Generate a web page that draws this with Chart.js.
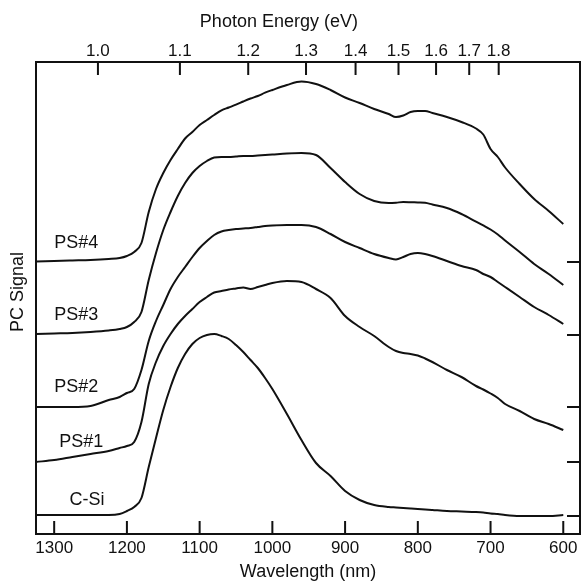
<!DOCTYPE html>
<html>
<head>
<meta charset="utf-8">
<script src="https://cdn.jsdelivr.net/npm/chart.js@4.4.1/dist/chart.umd.min.js"></script>
<style>
  html, body { margin: 0; padding: 0; background: #fff; }
  #chart { display: block; }
</style>
</head>
<body>
<canvas id="chart" width="582" height="584"></canvas>
<script>
const FONT = '"Liberation Sans", Arial, sans-serif';
const INK = "#111";

// wavelength grid (nm)
const wavelength = [1325, 1300, 1275, 1250, 1225, 1210, 1200, 1190, 1180, 1170,
  1160, 1150, 1140, 1130, 1120, 1110, 1100, 1090, 1080, 1070,
  1060, 1050, 1040, 1030, 1020, 1010, 1000, 980, 960, 940,
  920, 900, 880, 860, 840, 830, 820, 810, 800, 790,
  780, 760, 740, 720, 710, 700, 690, 680, 660, 640,
  620, 600];

// PC signal above each curve's own zero line (arb. units)
const cSi = [1, 1, 1, 1, 1, 2, 5, 9, 18, 49,
  78, 106, 129, 148, 162, 172, 178, 181, 182, 180,
  177, 171, 164, 156, 148, 138, 127, 102, 76, 53,
  40, 25, 16, 11, 9, 8.5, 8, 7.5, 7, 6.5,
  6, 5, 4.5, 4, 3.5, 2.5, 2, 1, 0, 0,
  0, 1];
const ps1 = [0, 2, 5, 8, 11, 14, 16, 20, 40, 78,
  100, 116, 128, 138, 146, 153, 160, 165, 169.5, 171,
  172.5, 173.5, 174.5, 173, 175, 177, 179, 181, 180, 173,
  164, 146, 135, 126, 115, 111, 109, 108, 106.5, 103.5,
  100, 92, 85, 76, 72.5, 68.5, 64, 58, 51, 43,
  38, 32];
const ps2 = [0, 0, 0, 1, 7, 10, 14, 18, 37, 66,
  86, 102, 118, 130, 140, 150, 159, 166, 172, 175.5,
  177, 178, 178.5, 179, 180, 181, 181.5, 182, 182, 180,
  173, 165, 159, 153, 149, 147.5, 150, 153, 154, 153,
  151, 146, 141, 137, 133, 130, 125, 120, 110, 100,
  92, 83];
const ps3 = [1, 1.5, 2, 3, 4.5, 6, 8, 13, 23, 55,
  82, 105, 123, 139, 152, 162, 169, 174, 177.5, 178,
  178, 178.5, 179, 179, 179.5, 180, 180.5, 181.5, 182, 180,
  167, 153, 141, 134, 132, 132.3, 133, 132.8, 132.5, 132.2,
  130.5, 127, 121, 113.4, 109.6, 105.5, 100.5, 94.5, 83, 71,
  61, 50];
const ps4 = [0.5, 1, 1.5, 2, 3, 4, 6, 10, 19, 50,
  73, 89, 102, 113, 123.5, 130, 137, 142, 147, 151.7,
  154.5, 157.3, 160.5, 163.5, 166, 169.3, 172, 177, 180.5, 178,
  172, 164.5, 159, 153, 148, 145, 146.5, 150, 151, 151,
  149, 145, 140, 133.5, 127.5, 113, 105, 94.5, 78, 63,
  51, 38];

const seriesNames = ["C-Si", "PS#1", "PS#2", "PS#3", "PS#4"];
const seriesValues = [cSi, ps1, ps2, ps3, ps4];
// zero line of each curve (marked by the right-hand ticks)
const baselines = [18, 72, 127, 199, 272];

const wavelengthTicks = [1300, 1200, 1100, 1000, 900, 800, 700, 600];
const energyTicks = [1.0, 1.1, 1.2, 1.3, 1.4, 1.5, 1.6, 1.7, 1.8];
const HC = 1239.84; // eV*nm

const frameAndLabels = {
  id: "frameAndLabels",
  afterDraw(chart, args, options) {
    const {
      ctx,
      chartArea: { left, top, right, bottom },
      scales: { x, x2, y, y2 },
    } = chart;
    const len = options.tickLength;
    ctx.save();
    ctx.strokeStyle = INK;
    ctx.lineWidth = 2;
    ctx.strokeRect(left, top, right - left, bottom - top);
    ctx.beginPath();
    x.ticks.forEach((t) => {
      const px = x.getPixelForValue(t.value);
      ctx.moveTo(px, bottom);
      ctx.lineTo(px, bottom - len);
    });
    x2.ticks.forEach((t) => {
      const px = x2.getPixelForValue(t.value);
      ctx.moveTo(px, top);
      ctx.lineTo(px, top + len);
    });
    y2.ticks.forEach((t) => {
      const py = y2.getPixelForValue(t.value);
      ctx.moveTo(right, py);
      ctx.lineTo(right - len, py);
    });
    ctx.stroke();

    ctx.fillStyle = INK;
    ctx.font = `18px ${FONT}`;
    ctx.textAlign = "left";
    ctx.textBaseline = "middle";
    seriesNames.forEach((name, i) => {
      const px = x.getPixelForValue(options.at[i]);
      const py = y.getPixelForValue(baselines[i]) - options.lift[i];
      ctx.fillText(name, px, py);
    });

    // axis titles that sit off-centre in the original
    ctx.textAlign = "center";
    ctx.fillText("Photon Energy (eV)", x2.getPixelForValue(options.topTitleAt), 22);
    ctx.translate(18, y.getPixelForValue(options.sideTitleAt));
    ctx.rotate(-Math.PI / 2);
    ctx.fillText("PC Signal", 0, 0);
    ctx.restore();
  },
};

const datasets = seriesValues.map((vals, i) => ({
  label: seriesNames[i],
  data: wavelength.map((w, j) => ({ x: w, y: vals[j] + baselines[i] })),
  borderColor: INK,
  borderWidth: 2,
  pointRadius: 0,
  fill: false,
  cubicInterpolationMode: "monotone",
}));

Chart.defaults.font.family = FONT;
Chart.defaults.color = INK;

new Chart(document.getElementById("chart"), {
  type: "line",
  data: { datasets },
  options: {
    responsive: false,
    animation: false,
    layout: { padding: 0 },
    plugins: {
      legend: { display: false },
      tooltip: { enabled: false },
      frameAndLabels: {
        tickLength: 13,
        at: [1279, 1293, 1300, 1300, 1300],
        lift: [16, 20, 20, 20, 19],
        topTitleAt: 991,
        sideTitleAt: 242,
      },
    },
    scales: {
      x: {
        type: "linear",
        position: "bottom",
        min: 577,
        max: 1325,
        reverse: true,
        afterBuildTicks: (s) => {
          s.ticks = wavelengthTicks.map((v) => ({ value: v }));
        },
        afterFit: (s) => {
          s.height = 50;
        },
        ticks: {
          padding: 4,
          autoSkip: false,
          maxRotation: 0,
          font: { size: 17 },
          callback: (v) => String(v),
        },
        grid: { display: false, drawTicks: false },
        border: { display: false },
        title: { display: true, text: "Wavelength (nm)", font: { size: 18 }, padding: { top: 0, bottom: 1 } },
      },
      x2: {
        type: "linear",
        position: "top",
        min: 577,
        max: 1325,
        reverse: true,
        afterBuildTicks: (s) => {
          s.ticks = energyTicks.map((e) => ({ value: HC / e }));
        },
        afterFit: (s) => {
          s.height = 62;
        },
        ticks: {
          padding: 0,
          autoSkip: false,
          maxRotation: 0,
          font: { size: 17 },
          callback: (v, i) => energyTicks[i].toFixed(1),
        },
        grid: { display: false, drawTicks: false },
        border: { display: false },
      },
      y: {
        type: "linear",
        position: "left",
        min: 0,
        max: 472,
        afterFit: (s) => {
          s.width = 36;
        },
        ticks: { display: false },
        grid: { display: false, drawTicks: false },
        border: { display: false },
      },
      y2: {
        type: "linear",
        position: "right",
        min: 0,
        max: 472,
        afterBuildTicks: (s) => {
          s.ticks = baselines.map((v) => ({ value: v }));
        },
        afterFit: (s) => {
          s.width = 2;
        },
        ticks: { display: false },
        grid: { display: false, drawTicks: false },
        border: { display: false },
      },
    },
  },
  plugins: [frameAndLabels],
});
</script>
</body>
</html>
